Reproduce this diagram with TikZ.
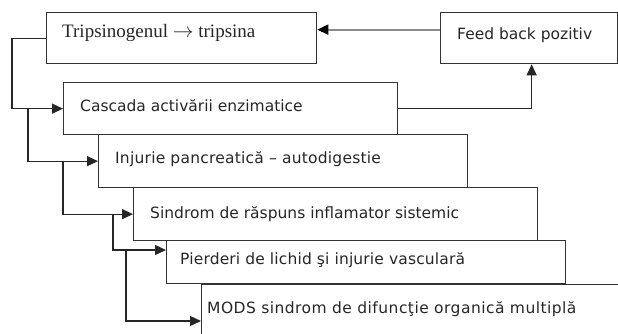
\documentclass[tikz,border=0pt]{standalone}
\usepackage{fontspec}
\setmainfont{DejaVu Sans}
\newfontfamily\serifbox{Liberation Serif}
\usetikzlibrary{arrows.meta,calc}
\begin{document}
\begin{tikzpicture}[x=1pt,y=-1pt,
  box/.style={draw=black!80, line width=1.3pt, rectangle, inner sep=0pt, anchor=north west},
  txt/.style={anchor=base west, inner sep=0pt, font=\fontsize{15.5}{18}\selectfont, text=black!85},
  arr/.style={draw=black!85, line width=1.3pt, -{Triangle[length=11pt,width=10pt]}},
  fbarr/.style={draw=black!45, line width=2pt, -{Triangle[length=11pt,width=10pt,color=black]}},
]
\useasboundingbox (0,0) rectangle (618,333);
\clip (0,0) rectangle (618,333);
\node[box, minimum width=270pt, minimum height=51pt] (b1) at (46,12) {};
\node[box, minimum width=177pt, minimum height=51pt] (fb) at (440,12) {};
\node[box, minimum width=334pt, minimum height=52pt] (b2) at (63,82) {};
\node[box, minimum width=369pt, minimum height=53pt] (b3) at (98,134) {};
\node[box, minimum width=404pt, minimum height=53pt] (b4) at (133,187) {};
\node[box, minimum width=399pt, minimum height=43pt] (b5) at (166,240) {};
\node[box, minimum width=440pt, minimum height=80pt] (b6) at (201,284) {};

\node[txt, font=\serifbox\fontsize{19}{22}\selectfont] (t1) at ($(b1.north west)+(16,25)$) {Tripsinogenul {\fontsize{21}{22}\selectfont$\rightarrow$} tripsina};
\node[txt] (tf) at ($(fb.north west)+(17,27)$) {Feed back pozitiv};
\node[txt] (t2) at ($(b2.north west)+(17,29)$) {Cascada activării enzimatice};
\node[txt] (t3) at ($(b3.north west)+(17,29)$) {\addfontfeature{LetterSpace=1.5}Injurie pancreatică – autodigestie};
\node[txt] (t4) at ($(b4.north west)+(17,31)$) {Sindrom de răspuns inflamator sistemic};
\node[txt] (t5) at ($(b5.north west)+(14,24)$) {\addfontfeature{LetterSpace=1}Pierderi de lichid şi injurie vasculară};
\node[txt] (t6) at ($(b6.north west)+(6,29)$) {\addfontfeature{LetterSpace=3}MODS sindrom de difuncţie organică multiplă};

\coordinate (j0) at ($(b1.west)+(-34,0)$);
\coordinate (j1) at ($(b2.west)+(-35,0)$);
\coordinate (j2) at ($(b3.west)+(-35,0)$);
\coordinate (j3) at ($(b4.west)+(-20,0)$);
\coordinate (e5) at ($(b5.north west)+(0,10)$);
\coordinate (j4) at ($(e5)+(-40,0)$);
\coordinate (e6) at ($(b6.north west)+(0,37)$);

\draw[arr] (b1.west) -- (j0) |- (b2.west);
\draw[arr] (j1) |- (b3.west);
\draw[arr] (j2) |- (b4.west);
\draw[arr] (j3) |- (e5);
\draw[arr] (j4) |- (e6);
\draw[arr] (b2.east) -| ($(fb.south)+(2.5,0)$);
\draw[fbarr] ($(fb.west)+(0,-8.5)$) -- ($(b1.east)+(0,-8.5)$);
\end{tikzpicture}
\end{document}
